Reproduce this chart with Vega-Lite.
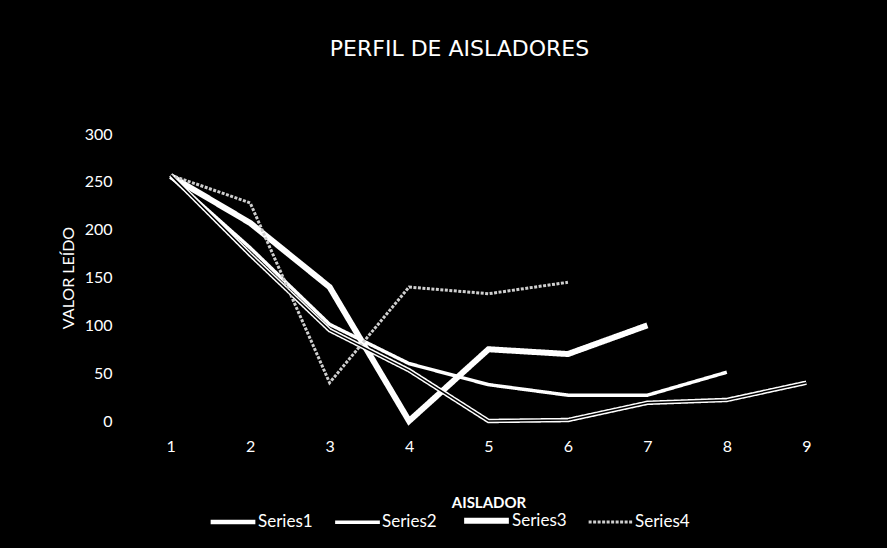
{
  "$schema": "https://vega.github.io/schema/vega-lite/v6.json",
  "width": 715,
  "height": 287,
  "autosize": {"type": "none"},
  "padding": {"left": 131, "top": 134, "right": 41, "bottom": 127},
  "background": "black",
  "title": {"text": "PERFIL DE AISLADORES", "color": "white", "font": "DejaVu Sans", "fontSize": 22, "fontWeight": "normal", "offset": 65, "dx": -29, "anchor": "middle"},
  "config": {
    "view": {"stroke": null},
    "axis": {"grid": false, "domain": false, "ticks": false, "labelColor": "white", "titleColor": "white", "labelFont": "Lato", "titleFont": "Lato", "labelFontSize": 16, "titleFontSize": 16}
  },
  "data": {"values": [
    {"aislador": "1", "valor": 257, "serie": "Series1"},
    {"aislador": "2", "valor": 174, "serie": "Series1"},
    {"aislador": "3", "valor": 95, "serie": "Series1"},
    {"aislador": "4", "valor": 53, "serie": "Series1"},
    {"aislador": "5", "valor": 0, "serie": "Series1"},
    {"aislador": "6", "valor": 1, "serie": "Series1"},
    {"aislador": "7", "valor": 19, "serie": "Series1"},
    {"aislador": "8", "valor": 22, "serie": "Series1"},
    {"aislador": "9", "valor": 40, "serie": "Series1"},
    {"aislador": "1", "valor": 255, "serie": "Series2"},
    {"aislador": "2", "valor": 181, "serie": "Series2"},
    {"aislador": "3", "valor": 101, "serie": "Series2"},
    {"aislador": "4", "valor": 60, "serie": "Series2"},
    {"aislador": "5", "valor": 38, "serie": "Series2"},
    {"aislador": "6", "valor": 27, "serie": "Series2"},
    {"aislador": "7", "valor": 27, "serie": "Series2"},
    {"aislador": "8", "valor": 51, "serie": "Series2"},
    {"aislador": "1", "valor": 256, "serie": "Series3"},
    {"aislador": "2", "valor": 207, "serie": "Series3"},
    {"aislador": "3", "valor": 140, "serie": "Series3"},
    {"aislador": "4", "valor": 0, "serie": "Series3"},
    {"aislador": "5", "valor": 75, "serie": "Series3"},
    {"aislador": "6", "valor": 70, "serie": "Series3"},
    {"aislador": "7", "valor": 100, "serie": "Series3"},
    {"aislador": "1", "valor": 257, "serie": "Series4"},
    {"aislador": "2", "valor": 228, "serie": "Series4"},
    {"aislador": "3", "valor": 40, "serie": "Series4"},
    {"aislador": "4", "valor": 140, "serie": "Series4"},
    {"aislador": "5", "valor": 133, "serie": "Series4"},
    {"aislador": "6", "valor": 145, "serie": "Series4"}
  ]},
  "layer": [
    {
      "mark": {"type": "line"},
      "encoding": {
        "x": {"field": "aislador", "type": "ordinal", "scale": {"type": "point", "padding": 0.5},
              "axis": {"labelAngle": 0, "title": "AISLADOR", "labelPadding": 17, "titlePadding": 41, "titleFontWeight": "bold", "titleFontSize": 15}},
        "y": {"field": "valor", "type": "quantitative", "scale": {"domain": [0, 300]},
              "axis": {"values": [0, 50, 100, 150, 200, 250, 300], "title": "VALOR LEÍDO", "labelPadding": 19, "titlePadding": 8, "titleFontWeight": "normal"}},
        "color": {"field": "serie", "type": "nominal",
                  "scale": {"domain": ["Series1", "Series2", "Series3", "Series4"], "range": ["#ffffff", "#ffffff", "#ffffff", "#cfcfcf"]},
                  "legend": {"orient": "none", "legendX": 77, "legendY": 361, "direction": "horizontal", "title": null,
                             "symbolType": "stroke", "symbolSize": 2000, "labelColor": "white", "labelFont": "Lato", "labelFontSize": 17,
                             "columnPadding": 15, "labelOffset": 0}},
        "strokeWidth": {"field": "serie", "type": "nominal", "scale": {"type": "ordinal", "domain": ["Series1", "Series2", "Series3", "Series4"], "range": [4.5, 3.5, 6, 3]}},
        "strokeDash": {"field": "serie", "type": "nominal", "scale": {"domain": ["Series1", "Series2", "Series3", "Series4"], "range": [[1, 0], [1, 0], [1, 0], [3, 1.5]]}}
      }
    },
    {
      "transform": [{"filter": "datum.serie === 'Series1'"}],
      "mark": {"type": "line", "color": "black", "strokeWidth": 1.5},
      "encoding": {
        "x": {"field": "aislador", "type": "ordinal"},
        "y": {"field": "valor", "type": "quantitative"}
      }
    }
  ]
}
